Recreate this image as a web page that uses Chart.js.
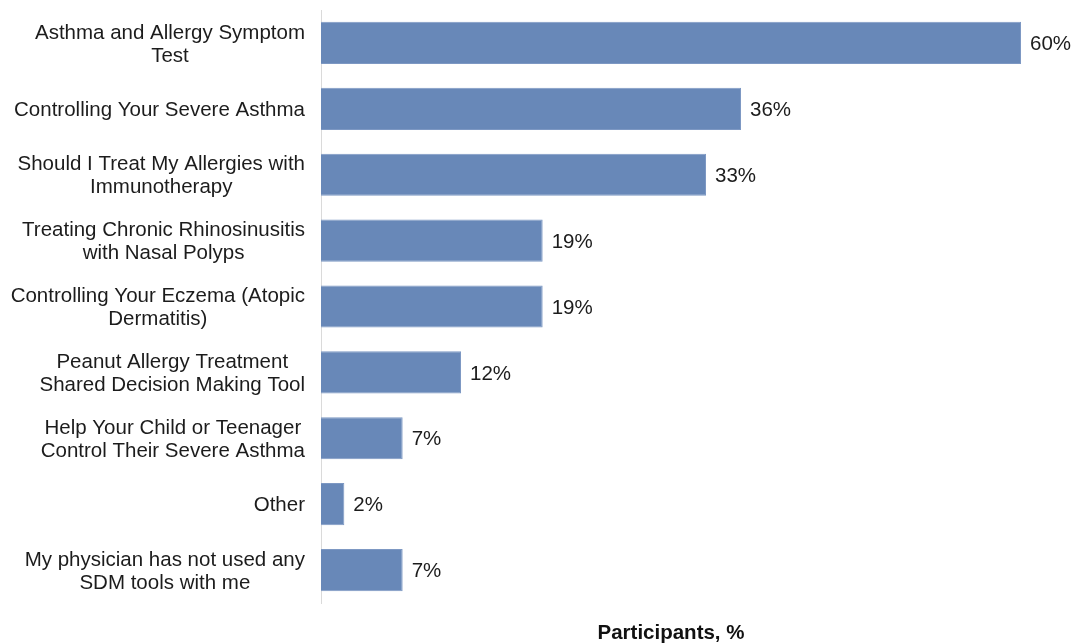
<!DOCTYPE html>
<html>
<head>
<meta charset="utf-8">
<script src="https://cdn.jsdelivr.net/npm/chart.js@4.4.1/dist/chart.umd.min.js"></script>
<style>
  html, body { margin: 0; padding: 0; background: #fff; }
  #wrap { width: 1071px; height: 644px; }
</style>
</head>
<body>
<div id="wrap"><canvas id="sdmChart" width="1071" height="644"></canvas></div>
<script>
// SDM tools used by participants
const tools = [
    ["Asthma and Allergy Symptom", "Test"],
    ["Controlling Your Severe Asthma"],
    ["Should I Treat My Allergies with", "Immunotherapy"],
    ["Treating Chronic Rhinosinusitis", "with Nasal Polyps"],
    ["Controlling Your Eczema (Atopic", "Dermatitis)"],
    ["Peanut Allergy Treatment", "Shared Decision Making Tool"],
    ["Help Your Child or Teenager", "Control Their Severe Asthma"],
    ["Other"],
    ["My physician has not used any", "SDM tools with me"]
];
const participantsPct = [60, 36, 33, 19, 19, 12, 7, 2, 7];
const axisTitle = "Participants, %";

const barColor = "#6888b8";
const textColor = "#1c1c1c";
const fontFamily = "'Liberation Sans', Arial, sans-serif";
const fontSize = 20.5;
const lineGap = 23;

// category names: block flush right against the axis, lines centred inside it
const categoryLabels = {
    id: "categoryLabels",
    afterDraw(chart) {
        const { ctx } = chart;
        const yScale = chart.scales.y;
        const rightEdge = chart.chartArea.left - 16;
        ctx.save();
        ctx.font = fontSize + "px " + fontFamily;
        ctx.fillStyle = textColor;
        ctx.textAlign = "center";
        ctx.textBaseline = "middle";
        tools.forEach((lines, i) => {
            const w = Math.max(...lines.map(l => ctx.measureText(l).width));
            const cx = rightEdge - w / 2;
            const cy = yScale.getPixelForValue(i) + 1.5;
            const y0 = cy - (lines.length - 1) * lineGap / 2;
            lines.forEach((l, j) => ctx.fillText(l, cx, y0 + j * lineGap));
        });
        ctx.restore();
    }
};

// writes "NN%" just past the end of each bar
const valueLabels = {
    id: "valueLabels",
    afterDatasetsDraw(chart) {
        const { ctx } = chart;
        const meta = chart.getDatasetMeta(0);
        ctx.save();
        ctx.font = fontSize + "px " + fontFamily;
        ctx.fillStyle = textColor;
        ctx.textAlign = "left";
        ctx.textBaseline = "middle";
        meta.data.forEach((bar, i) => {
            ctx.fillText(participantsPct[i] + "%", bar.x + 9, bar.y + 1.5);
        });
        ctx.restore();
    }
};

const ctx = document.getElementById("sdmChart").getContext("2d");
const sdmChart = new Chart(ctx, {
    type: "bar",
    data: {
        labels: tools.map(l => l.join(" ")),
        datasets: [{
            data: participantsPct,
            backgroundColor: barColor,
            borderColor: "#7d98c3",
            borderWidth: 1,
            categoryPercentage: 1,
            barPercentage: 0.64
        }]
    },
    options: {
        indexAxis: "y",
        responsive: false,
        animation: false,
        layout: {
            padding: { top: 10, right: 50, bottom: 0, left: 0 }
        },
        scales: {
            x: {
                min: 0,
                max: 60,
                grid: { display: false },
                border: { display: false },
                ticks: { display: false },
                title: {
                    display: true,
                    text: axisTitle,
                    color: "#111",
                    font: { family: fontFamily, size: fontSize, weight: "bold", lineHeight: 1 },
                    padding: { top: 0, bottom: 0 }
                },
                afterFit(scale) { scale.height = 41; }
            },
            y: {
                grid: { display: false },
                border: { display: true, color: "#dadada", width: 1 },
                ticks: { display: false },
                afterFit(scale) {
                    scale.width = 321;
                    scale.paddingTop = 0;
                    scale.paddingBottom = 0;
                }
            }
        },
        plugins: {
            legend: { display: false },
            tooltip: { enabled: false }
        }
    },
    plugins: [categoryLabels, valueLabels]
});
</script>
</body>
</html>
